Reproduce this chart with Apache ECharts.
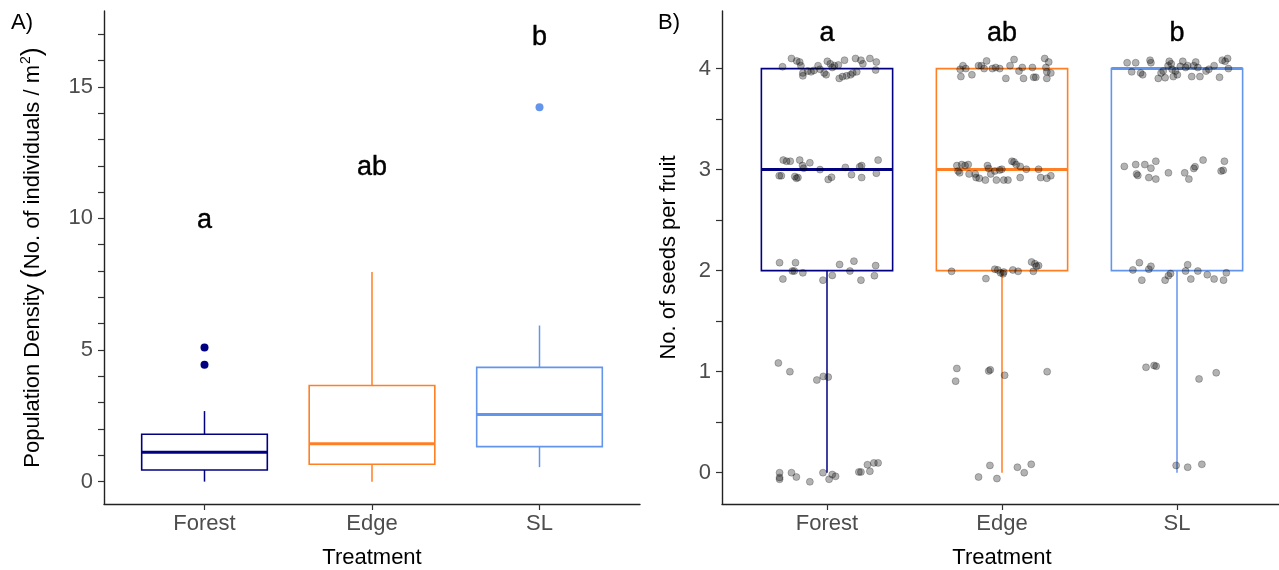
<!DOCTYPE html>
<html>
<head>
<meta charset="utf-8">
<script src="https://cdn.jsdelivr.net/npm/echarts@6/dist/echarts.min.js"></script>
<style>
html, body { margin: 0; padding: 0; background: #fff; }
#main { width: 1279px; height: 570px; }
</style>
</head>
<body>
<div id="main"></div>
<script>
// categories and colours
var categories = ['Forest', 'Edge', 'SL'];
var colorList = ['#000080', '#FF7F24', '#6495ED'];

// A) population density box stats: [min, Q1, median, Q3, max]
var densityBox = [
	[0, 0.44, 1.12, 1.80, 2.68],
	[0, 0.66, 1.44, 3.65, 7.96],
	[0.55, 1.33, 2.55, 4.34, 5.93]
];
// outliers [category, value]
var densityOutliers = [[1, 5.10], [1, 4.44], [3, 14.22]];
var densityLetters = ['a', 'ab', 'b'];
var densityLetterY = [9.92, 11.94, 16.89];
var densityTicks = [0, 1, 2, 3, 4, 5, 6, 7, 8, 9, 10, 11, 12, 13, 14, 15, 16, 17];
var densityLabels = [0, 5, 10, 15];

// B) seeds per fruit box stats
var seedBox = [
	[0, 2, 3, 4, 4],
	[0, 2, 3, 4, 4],
	[0, 2, 4, 4, 4]
];
var seedLetters = ['a', 'ab', 'b'];
var seedLetterY = [4.35, 4.35, 4.35];
var seedTicks = [0, 0.5, 1, 1.5, 2, 2.5, 3, 3.5, 4];
var seedLabels = [0, 1, 2, 3, 4];

// jittered points [x, seeds]
var forestSeeds = [
	[0.746, 4.018], [0.797, 4.10], [0.827, 4.076], [0.844, 4.065], [0.851, 4.029], [0.862, 3.957],
	[0.862, 3.928], [0.890, 3.975], [0.909, 3.968], [0.925, 3.982], [0.949, 4.029], [0.960, 3.993],
	[0.984, 3.957], [0.995, 3.939], [1.002, 4.072], [1.019, 4.047], [1.030, 4.011], [1.042, 4.029],
	[1.065, 4.036], [1.070, 3.903], [1.089, 3.921], [1.100, 4.083], [1.112, 3.928], [1.135, 3.939],
	[1.147, 3.957], [1.163, 4.10], [1.170, 3.968], [1.194, 4.083], [1.205, 4.047], [1.245, 4.10],
	[1.278, 3.986], [1.282, 4.065],
	[0.727, 2.939], [0.739, 2.939], [0.750, 3.094], [0.769, 3.083], [0.790, 3.083], [0.816, 2.932],
	[0.825, 2.914], [0.834, 2.921], [0.844, 3.094], [0.860, 3.040], [0.867, 3.014], [0.902, 3.068],
	[0.960, 3.000], [1.007, 2.903], [1.026, 2.924], [1.105, 3.022], [1.140, 2.950], [1.187, 3.029],
	[1.198, 3.040], [1.198, 2.921], [1.282, 2.964], [1.292, 3.094],
	[0.729, 2.079], [0.748, 1.917], [0.802, 1.996], [0.813, 1.996], [0.820, 2.079], [0.862, 1.978],
	[0.977, 1.906], [1.030, 1.953], [1.072, 2.061], [1.131, 1.996], [1.154, 2.094], [1.194, 1.906],
	[1.271, 1.950], [1.278, 2.050],
	[0.722, 1.086], [0.788, 1.000], [0.942, 0.917], [0.979, 0.953], [1.007, 0.946],
	[0.729, 0], [0.729, -0.047], [0.729, -0.065], [0.797, 0], [0.825, -0.043], [0.902, -0.090],
	[0.977, 0], [1.012, -0.065], [1.030, -0.018], [1.049, -0.036], [1.182, 0.007], [1.194, 0.007],
	[1.231, 0.079], [1.245, 0.014], [1.268, 0.097], [1.292, 0.097]
];
var edgeSeeds = [
	[1.761, 3.993], [1.765, 3.921], [1.777, 4.029], [1.793, 4.000], [1.828, 3.939], [1.866, 4.029],
	[1.882, 4.029], [1.898, 4.000], [1.912, 4.076], [1.945, 4.000], [1.964, 4.011], [1.987, 4.000],
	[2.022, 3.903], [2.046, 4.029], [2.069, 4.090], [2.097, 3.975], [2.116, 4.011], [2.123, 3.903],
	[2.174, 4.011], [2.181, 3.914], [2.193, 3.914], [2.244, 4.10], [2.251, 4.011], [2.256, 3.968],
	[2.256, 3.903], [2.279, 3.957], [2.267, 4.065],
	[1.742, 3.040], [1.749, 2.986], [1.758, 2.968], [1.770, 3.050], [1.789, 3.040], [1.807, 3.050],
	[1.812, 2.957], [1.847, 2.957], [1.852, 2.921], [1.870, 2.914], [1.905, 2.896], [1.917, 3.040],
	[1.924, 3.011], [1.936, 2.957], [1.959, 2.986], [1.968, 2.896], [1.987, 2.996], [1.999, 3.004],
	[2.010, 2.896], [2.034, 2.896], [2.057, 3.083], [2.069, 3.076], [2.081, 3.050], [2.104, 3.032],
	[2.104, 2.921], [2.139, 3.004], [2.209, 3.004], [2.221, 2.921], [2.256, 2.914], [2.279, 2.939],
	[1.712, 1.993], [1.908, 1.921], [1.959, 2.014], [1.976, 2.007], [1.992, 1.978], [2.006, 1.968],
	[2.010, 1.986], [2.062, 2.007], [2.092, 1.993], [2.169, 2.086], [2.179, 1.993], [2.188, 2.068],
	[2.197, 2.043], [2.209, 2.050],
	[1.742, 1.032], [1.735, 0.906], [1.924, 1.007], [1.933, 1.018], [2.015, 0.964], [2.258, 1.000],
	[1.866, -0.043], [1.931, 0.072], [1.971, -0.058], [2.088, 0.054], [2.127, 0], [2.167, 0.083]
];
var slSeeds = [
	[2.715, 4.058], [2.741, 3.968], [2.764, 4.058], [2.792, 3.957], [2.804, 3.939], [2.846, 4.083],
	[2.851, 4.058], [2.893, 3.903], [2.909, 3.957], [2.921, 3.975], [2.932, 3.910], [2.949, 4.029],
	[2.956, 4.072], [2.967, 4.047], [2.972, 3.993], [2.979, 3.921], [2.991, 3.975], [3.002, 3.939],
	[3.019, 4.022], [3.033, 4.072], [3.049, 4.011], [3.061, 4.029], [3.084, 3.921], [3.096, 4.029],
	[3.107, 4.065], [3.119, 4.011], [3.131, 3.921], [3.166, 3.975], [3.182, 3.993], [3.212, 4.029],
	[3.243, 3.914], [3.259, 4.083], [3.275, 4.072], [3.289, 4.10], [3.294, 4.000],
	[2.699, 3.032], [2.764, 3.050], [2.769, 2.957], [2.776, 2.942], [2.816, 3.050], [2.839, 2.921],
	[2.851, 3.014], [2.879, 3.083], [2.879, 2.906], [2.951, 2.968], [3.044, 2.968], [3.068, 2.906],
	[3.096, 3.011], [3.103, 3.029], [3.149, 3.094], [3.252, 2.986], [3.264, 2.993], [3.271, 3.083],
	[2.748, 2.007], [2.785, 2.079], [2.799, 1.906], [2.839, 2.014], [2.851, 2.043], [2.932, 1.906],
	[2.951, 1.950], [2.963, 1.971], [3.049, 1.996], [3.061, 2.058], [3.079, 1.917], [3.119, 1.996],
	[3.173, 1.960], [3.212, 1.917], [3.266, 1.906], [3.282, 1.978],
	[2.823, 1.043], [2.869, 1.061], [2.881, 1.054], [3.126, 0.928], [3.224, 0.989],
	[2.995, 0.072], [3.061, 0.054], [3.142, 0.083]
];

var FONT = '"Liberation Sans", Arial, sans-serif';
var BOX_WIDTH = 0.75;

// x轴（离散类别，用数值轴模拟 ggplot 的扩展）
function xAxisCfg(gridIndex) {
	return {
		type : 'value',
		gridIndex : gridIndex,
		min : 0.4,
		max : 3.6,
		name : 'Treatment',
		nameLocation : 'middle',
		nameGap : 43,
		nameTextStyle : { fontFamily : FONT, fontSize : 22, color : '#000' },
		splitLine : { show : false },
		axisLine : { show : true, onZero : false, lineStyle : { color : '#222', width : 1.4 } },
		axisTick : { show : true, length : 6, customValues : [1, 2, 3], lineStyle : { color : '#333', width : 1.2 } },
		axisLabel : {
			customValues : [1, 2, 3],
			margin : 9,
			fontFamily : FONT,
			fontSize : 22,
			color : '#4D4D4D',
			formatter : function(v) {
				return categories[Math.round(v) - 1];
			}
		}
	};
}

function yAxisCfg(gridIndex, min, max, ticks, labels, name, nameGap) {
	return {
		type : 'value',
		gridIndex : gridIndex,
		min : min,
		max : max,
		name : name,
		nameLocation : 'middle',
		nameGap : nameGap,
		nameTextStyle : {
			fontFamily : FONT,
			fontSize : 22,
			color : '#000',
			rich : {
				t : { fontFamily : FONT, fontSize : 22, color : '#000' },
				p : { fontFamily : FONT, fontSize : 27, color : '#000' },
				s : { fontFamily : FONT, fontSize : 14, color : '#000', verticalAlign : 'top', padding : [0, 0, 0, 1] }
			}
		},
		splitLine : { show : false },
		axisLine : { show : true, onZero : false, lineStyle : { color : '#222', width : 1.4 } },
		axisTick : { show : true, length : 6, customValues : ticks, lineStyle : { color : '#333', width : 1.2 } },
		axisLabel : {
			customValues : labels,
			margin : 11,
			fontFamily : FONT,
			fontSize : 22,
			color : '#4D4D4D'
		}
	};
}

// 箱线图
function renderBox(params, api) {
	var x = api.value(0);
	var lo = api.value(1), q1 = api.value(2), med = api.value(3), q3 = api.value(4), hi = api.value(5);
	var color = colorList[params.dataIndex];
	var half = BOX_WIDTH / 2;
	var tl = api.coord([x - half, q3]);
	var br = api.coord([x + half, q1]);
	var pHi = api.coord([x, hi]), pQ3 = api.coord([x, q3]);
	var pQ1 = api.coord([x, q1]), pLo = api.coord([x, lo]);
	var ml = api.coord([x - half, med]), mr = api.coord([x + half, med]);
	var children = [];
	if (hi > q3) {
		children.push({ type : 'line', shape : { x1 : pHi[0], y1 : pHi[1], x2 : pQ3[0], y2 : pQ3[1] },
			style : { stroke : color, lineWidth : 1.5 } });
	}
	if (lo < q1) {
		children.push({ type : 'line', shape : { x1 : pQ1[0], y1 : pQ1[1], x2 : pLo[0], y2 : pLo[1] },
			style : { stroke : color, lineWidth : 1.5 } });
	}
	children.push({ type : 'rect', shape : { x : tl[0], y : tl[1], width : br[0] - tl[0], height : br[1] - tl[1] },
		style : { fill : 'transparent', stroke : color, lineWidth : 1.6 } });
	children.push({ type : 'line', shape : { x1 : ml[0], y1 : ml[1], x2 : mr[0], y2 : mr[1] },
		style : { stroke : color, lineWidth : 3 } });
	return { type : 'group', children : children };
}

function boxData(stats) {
	var out = [];
	for (var i = 0; i < stats.length; i++) {
		out.push([i + 1].concat(stats[i]));
	}
	return out;
}

function letterData(letters, ys) {
	var out = [];
	for (var i = 0; i < letters.length; i++) {
		out.push({ name : letters[i], value : [i + 1, ys[i]] });
	}
	return out;
}

function letterSeries(idx, letters, ys) {
	return {
		type : 'scatter',
		xAxisIndex : idx,
		yAxisIndex : idx,
		symbolSize : 1,
		itemStyle : { color : 'rgba(0,0,0,0)', opacity : 1 },
		silent : true,
		label : {
			show : true,
			position : 'inside',
			formatter : '{b}',
			fontFamily : FONT,
			fontSize : 27,
			color : '#000',
			textBorderColor : '#000',
			textBorderWidth : 0.4
		},
		data : letterData(letters, ys),
		z : 5
	};
}

var outlierData = [];
for (var i = 0; i < densityOutliers.length; i++) {
	outlierData.push({
		value : densityOutliers[i],
		itemStyle : { color : colorList[densityOutliers[i][0] - 1], opacity : 1 }
	});
}

var myChart = echarts.init(document.getElementById('main'), null, { renderer : 'canvas' });
var option = {
	animation : false,
	backgroundColor : '#fff',
	grid : [
		{ left : 104, top : 11, width : 536, height : 493, outerBoundsMode : 'none', containLabel : false },
		{ left : 722, top : 11, width : 560, height : 493, outerBoundsMode : 'none', containLabel : false }
	],
	xAxis : [ xAxisCfg(0), xAxisCfg(1) ],
	yAxis : [
		yAxisCfg(0, -0.85, 17.88, densityTicks, densityLabels,
			'{t|Population Density }{p|(}{t|No. of individuals / m}{s|2}{p|)}', 58),
		yAxisCfg(1, -0.31, 4.57, seedTicks, seedLabels, '{t|No. of seeds per fruit}', 42)
	],
	graphic : [
		{ type : 'text', left : 11, top : 12, style : { text : 'A)', font : '22px ' + FONT, fill : '#000' } },
		{ type : 'text', left : 658, top : 12, style : { text : 'B)', font : '22px ' + FONT, fill : '#000' } }
	],
	series : [
		{
			type : 'custom',
			xAxisIndex : 0,
			yAxisIndex : 0,
			renderItem : renderBox,
			encode : { x : 0, y : [1, 2, 3, 4, 5] },
			data : boxData(densityBox),
			z : 2
		},
		{
			type : 'scatter',
			xAxisIndex : 0,
			yAxisIndex : 0,
			symbolSize : 8,
			data : outlierData,
			z : 3
		},
		letterSeries(0, densityLetters, densityLetterY),
		{
			type : 'custom',
			xAxisIndex : 1,
			yAxisIndex : 1,
			renderItem : renderBox,
			encode : { x : 0, y : [1, 2, 3, 4, 5] },
			data : boxData(seedBox),
			z : 2
		},
		{
			type : 'scatter',
			xAxisIndex : 1,
			yAxisIndex : 1,
			symbolSize : 7,
			itemStyle : { color : 'rgba(0,0,0,0.3)', borderColor : 'rgba(0,0,0,0.3)', borderWidth : 0.8, opacity : 1 },
			data : forestSeeds.concat(edgeSeeds, slSeeds),
			z : 4
		},
		letterSeries(1, seedLetters, seedLetterY)
	]
};
myChart.setOption(option, true);
</script>
</body>
</html>
